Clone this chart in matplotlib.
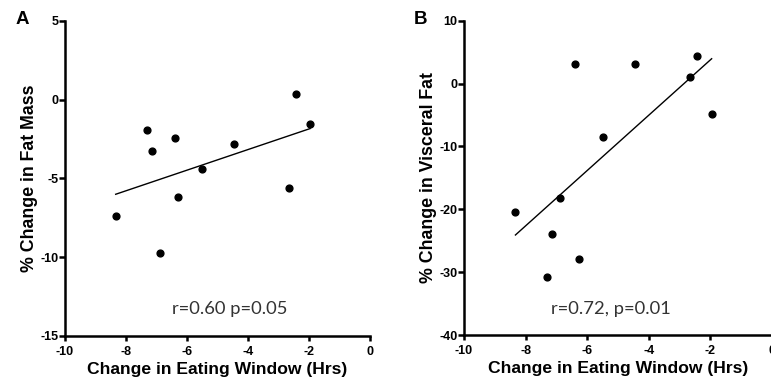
import numpy as np
import matplotlib
matplotlib.use("Agg")
import matplotlib.pyplot as plt

# Data
eating_window_change = [-8.33, -7.32, -7.15, -6.88, -6.40, -6.28, -5.50, -4.46, -2.65, -2.42, -1.96]
fat_mass_change = [-7.36, -1.96, -3.27, -9.76, -2.42, -6.20, -4.42, -2.80, -5.60, 0.38, -1.57]
visceral_fat_change = [-20.5, -30.7, -24.0, -18.2, 3.1, -27.9, -8.5, 3.1, 1.1, 4.4, -4.8]

x_ticks = [-10, -8, -6, -4, -2, 0]
a_yticks = [5, 0, -5, -10, -15]
b_yticks = [10, 0, -10, -20, -30, -40]

x_label = "Change in Eating Window (Hrs)"
a_ylabel = "% Change in Fat Mass"
b_ylabel = "% Change in Visceral Fat"
a_stat = "r=0.60 p=0.05"
b_stat = "r=0.72, p=0.01"

plt.rcParams['font.family'] = ['Liberation Sans', 'DejaVu Sans']

fig = plt.figure(figsize=(7.71, 3.91), dpi=100)

def panel(rect, x, y, yticks, ylabel, stat, stat_xy, letter, letter_x):
    ax = fig.add_axes(rect)
    ax.set_xlim(-10, 0)
    ax.set_ylim(min(yticks), max(yticks))
    for s in ['top', 'right']:
        ax.spines[s].set_visible(False)
    for s in ['left', 'bottom']:
        ax.spines[s].set_linewidth(1.8)
        ax.spines[s].set_color('black')
    ax.set_xticks(x_ticks)
    ax.set_xticklabels([str(t) for t in x_ticks])
    ax.set_yticks(yticks)
    ax.set_yticklabels([str(t) for t in yticks])
    ax.tick_params(direction='out', width=1.8, labelsize=9)
    ax.tick_params(axis='x', length=3.5, pad=3.5)
    ax.tick_params(axis='y', length=4.5, pad=0)
    for lab in ax.get_xticklabels() + ax.get_yticklabels():
        lab.set_fontweight('bold')
    ax.set_xlabel(x_label, fontsize=12.6, fontweight='bold', labelpad=3)
    ax.set_ylabel(ylabel, fontsize=12.8, fontweight='bold', labelpad=2)
    ax.scatter(x, y, s=24, color='black', zorder=3, clip_on=False)
    xa = np.array(x); ya = np.array(y)
    m, b = np.polyfit(xa, ya, 1)
    xs = np.array([xa.min(), xa.max()])
    ax.plot(xs, m * xs + b, color='black', lw=1.0)
    ax.text(stat_xy[0], stat_xy[1], stat, fontsize=13.2, color='#333333',
            family=['Lato', 'DejaVu Sans'], ha='center', va='center')
    fig.text(letter_x, 1 - 20 / 391, letter, fontsize=13.5, fontweight='bold',
             ha='center', va='center')
    return ax

panel([64.7 / 771, 1 - 336 / 391, 305.3 / 771, 315.3 / 391],
      eating_window_change, fat_mass_change, a_yticks, a_ylabel,
      a_stat, (-4.58, -13.3), "A", 22 / 771)
panel([464 / 771, 1 - 335 / 391, 308 / 771, 314.3 / 391],
      eating_window_change, visceral_fat_change, b_yticks, b_ylabel,
      b_stat, (-5.23, -35.8), "B", 421 / 771)

fig.savefig("out.png", dpi=100)
